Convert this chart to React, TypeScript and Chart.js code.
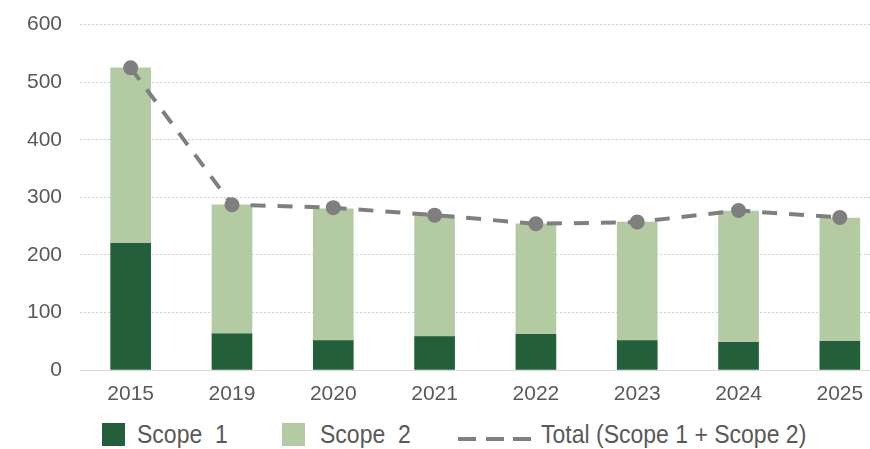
import React, { useEffect, useRef } from "react";
import { Chart, registerables } from "chart.js";

Chart.register(...registerables);

const categories = ["2015", "2019", "2020", "2021", "2022", "2023", "2024", "2025"];
const scope1 = [220, 63, 51, 58, 62, 51, 48, 50];
const scope2 = [305, 224, 229, 211, 192, 206, 228, 214];
const total = [525, 287, 282, 269, 254, 257, 277, 265];
const yMin = 0;
const yMax = 600;
const yStep = 100;

const DARK = "#245f3b";
const LIGHT = "#b3caa3";
const GRAY = "#7f7f7f";
const TEXT = "#595959";
const FONT = "'Liberation Sans', Arial, sans-serif";

export default function App() {
  const ref = useRef<HTMLCanvasElement>(null);

  useEffect(() => {
    if (!ref.current) return;
    const chart = new Chart(ref.current, {
      type: "bar",
      data: {
        labels: categories,
        datasets: [
          {
            type: "line",
            label: "Total (Scope 1 + Scope 2)",
            data: total,
            borderColor: GRAY,
            backgroundColor: GRAY,
            borderWidth: 4,
            borderDash: [15, 12],
            pointRadius: 7.5,
            pointBackgroundColor: GRAY,
            pointBorderWidth: 0,
            tension: 0,
            fill: false,
            stack: "line",
            order: 0,
          } as any,
          {
            type: "bar",
            label: "Scope  1",
            data: scope1,
            backgroundColor: DARK,
            barThickness: 40,
            stack: "bars",
            order: 1,
          },
          {
            type: "bar",
            label: "Scope  2",
            data: scope2,
            backgroundColor: LIGHT,
            barThickness: 40,
            stack: "bars",
            order: 1,
          },
        ],
      },
      options: {
        responsive: false,
        animation: false,
        layout: { padding: { top: 18, right: 0, left: 0, bottom: 0 } },
        plugins: {
          legend: { display: false },
          tooltip: { enabled: false },
        },
        scales: {
          x: {
            stacked: true,
            offset: true,
            grid: { display: false, drawTicks: false },
            border: { display: true, color: "#d9d9d9", width: 1 },
            ticks: {
              color: TEXT,
              font: { family: FONT, size: 21 },
              padding: 12,
              maxRotation: 0,
            },
            afterFit: (s: any) => {
              s.height = 40;
            },
          },
          y: {
            stacked: true,
            min: yMin,
            max: yMax,
            border: { display: false, dash: [2, 2] },
            grid: {
              drawTicks: false,
              color: (ctx: any) => (ctx.tick && ctx.tick.value === 0 ? "rgba(0,0,0,0)" : "#d0d0d0"),
              lineWidth: 1,
            },
            ticks: {
              stepSize: yStep,
              color: TEXT,
              font: { family: FONT, size: 21 },
              padding: 18,
            },
            afterFit: (s: any) => {
              s.width = 80;
            },
          } as any,
        },
      } as any,
    });
    return () => chart.destroy();
  }, []);

  const legendText: React.CSSProperties = {
    position: "absolute",
    top: 420,
    fontFamily: FONT,
    fontSize: 25,
    color: TEXT,
    whiteSpace: "pre",
    transform: "scaleX(0.92)",
    transformOrigin: "left top",
    lineHeight: "29px",
  };

  return (
    <div
      style={{
        position: "absolute",
        left: 0,
        top: 0,
        width: 870,
        height: 449,
        overflow: "hidden",
        background: "#fff",
      }}
    >
      <canvas
        ref={ref}
        width={898}
        height={416}
        style={{ display: "block", position: "absolute", left: 0, top: -6 }}
      />
      <div style={{ position: "absolute", left: 102, top: 423, width: 23, height: 23, background: DARK }} />
      <div style={{ ...legendText, left: 137 }}>Scope  1</div>
      <div style={{ position: "absolute", left: 282, top: 423, width: 23, height: 23, background: LIGHT }} />
      <div style={{ ...legendText, left: 320 }}>Scope  2</div>
      <div style={{ position: "absolute", left: 458, top: 437, width: 18, height: 4, background: GRAY }} />
      <div style={{ position: "absolute", left: 486, top: 437, width: 18, height: 4, background: GRAY }} />
      <div style={{ position: "absolute", left: 513, top: 437, width: 18, height: 4, background: GRAY }} />
      <div style={{ ...legendText, left: 541 }}>Total (Scope 1 + Scope 2)</div>
    </div>
  );
}
